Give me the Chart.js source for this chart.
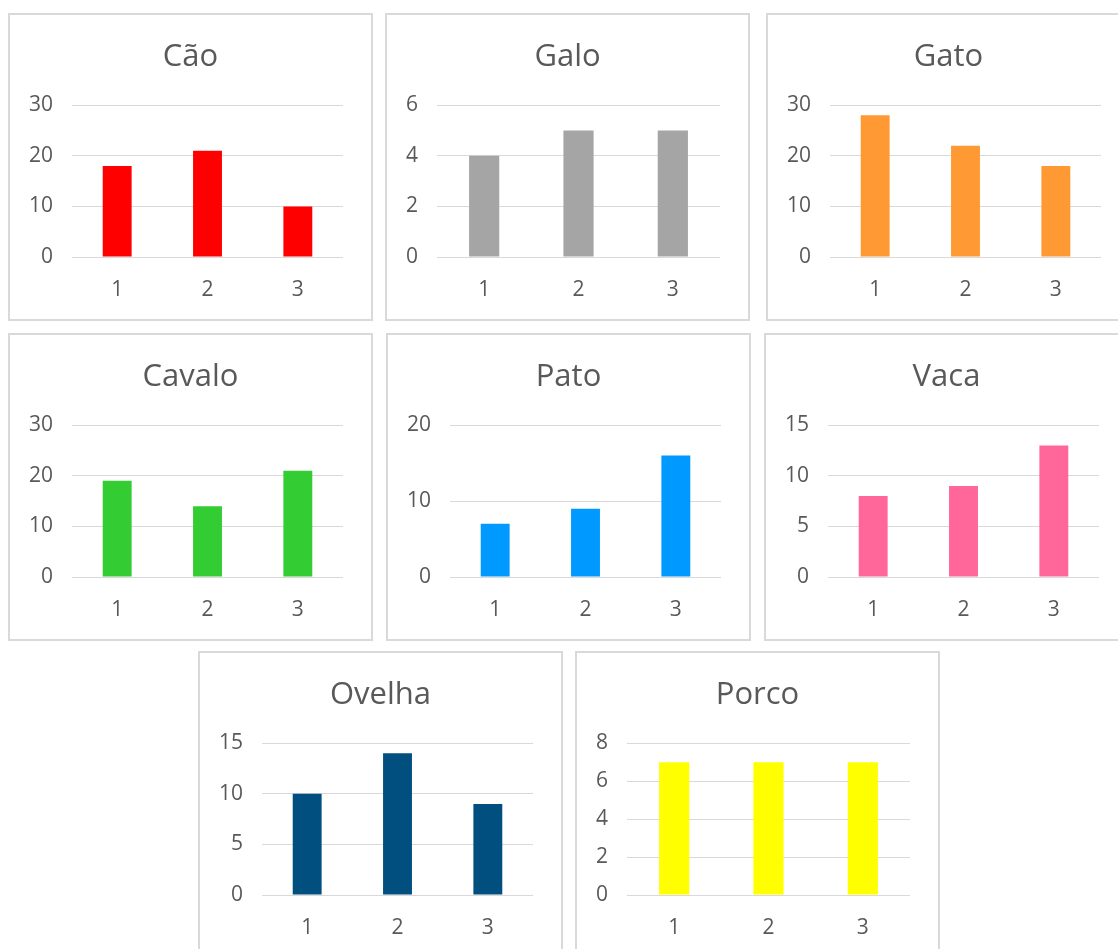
<!DOCTYPE html>
<html lang="pt">
<head>
<meta charset="utf-8">
<title>Animais</title>
<script src="https://cdn.jsdelivr.net/npm/chart.js@4.4.1/dist/chart.umd.min.js"></script>
<style>
  html, body { margin: 0; padding: 0; background: #fff; }
  body { width: 1118px; height: 949px; position: relative; overflow: hidden; }
  .panel {
    position: absolute;
    width: 365px;
    height: 308px;
    box-sizing: border-box;
    border: 2px solid #d9d9d9;
    background: #fff;
  }
  .panel canvas { display: block; }
</style>
</head>
<body>
<div id="grid"></div>

<script>
/* Small bar charts, one per animal */

const categories = ['1', '2', '3'];

const animals = ['Cão', 'Galo', 'Gato', 'Cavalo', 'Pato', 'Vaca', 'Ovelha', 'Porco'];

const caoValues    = [18, 21, 10];
const galoValues   = [4, 5, 5];
const gatoValues   = [28, 22, 18];
const cavaloValues = [19, 14, 21];
const patoValues   = [7, 9, 16];
const vacaValues   = [8, 9, 13];
const ovelhaValues = [10, 14, 9];
const porcoValues  = [7, 7, 7];

// axis max and step per chart
const axisMax  = [30, 6, 30, 30, 20, 15, 15, 8];
const axisStep = [10, 2, 10, 10, 10, 5, 5, 2];

const barColors = ['#ff0000', '#a5a5a5', '#ff9933', '#33cc33', '#0099ff', '#ff6699', '#004f7f', '#ffff00'];

const seriesValues = [caoValues, galoValues, gatoValues, cavaloValues, patoValues, vacaValues, ovelhaValues, porcoValues];

// panel top-left corners on the page
const panelPos = [
  [8, 13], [385, 13], [766, 13],
  [8, 333], [386, 333], [764, 333],
  [198, 651], [575, 651]
];

const TEXT = '#595959';
const GRID = '#d9d9d9';
const FONT = "'Open Sans', 'DejaVu Sans', sans-serif";

function buildPanel(i) {
  const wrap = document.createElement('div');
  wrap.className = 'panel';
  wrap.style.left = panelPos[i][0] + 'px';
  wrap.style.top  = panelPos[i][1] + 'px';
  const canvas = document.createElement('canvas');
  wrap.appendChild(canvas);
  document.getElementById('grid').appendChild(wrap);

  new Chart(canvas, {
    type: 'bar',
    data: {
      labels: categories,
      datasets: [{
        label: animals[i],
        data: seriesValues[i],
        backgroundColor: barColors[i],
        borderWidth: 0,
        barPercentage: 0.32,
        categoryPercentage: 1
      }]
    },
    options: {
      responsive: true,
      maintainAspectRatio: false,
      animation: false,
      layout: { padding: 0 },
      plugins: {
        legend: { display: false },
        tooltip: { enabled: false },
        title: {
          display: true,
          text: animals[i],
          color: TEXT,
          font: { family: FONT, size: 31, weight: 'normal' },
          padding: { top: 24, bottom: 29 }
        }
      },
      scales: {
        x: {
          grid: { display: false, drawTicks: false },
          border: { display: false },
          ticks: { color: TEXT, padding: 20, font: { family: FONT, size: 21 } },
          afterFit: scale => { scale.height = 62; }
        },
        y: {
          min: 0,
          max: axisMax[i],
          grid: { color: GRID, lineWidth: 1, drawTicks: false },
          border: { display: false },
          ticks: {
            stepSize: axisStep[i],
            color: TEXT,
            padding: 19,
            font: { family: FONT, size: 21 }
          }
        },
        // empty strip on the right so the title stays centred on the panel
        gap: {
          type: 'linear',
          position: 'right',
          grid: { display: false, drawTicks: false },
          border: { display: false },
          ticks: { display: false },
          afterFit: scale => { scale.width = 28; }
        }
      }
    }
  });
}

document.addEventListener('DOMContentLoaded', () => {
  animals.forEach((_, i) => buildPanel(i));
});
</script>
</body>
</html>
